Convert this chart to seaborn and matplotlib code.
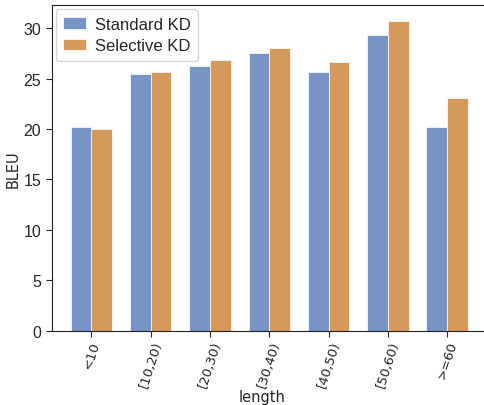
import matplotlib
matplotlib.use("Agg")
import matplotlib.pyplot as plt
import seaborn as sns
import pandas as pd

lengths = ["<10", "[10,20)", "[20,30)", "[30,40)", "[40,50)", "[50,60)", ">=60"]
standard_kd = [20.2, 25.5, 26.3, 27.5, 25.7, 29.3, 20.2]
selective_kd = [20.0, 25.7, 26.9, 28.0, 26.7, 30.7, 23.1]
methods = ["Standard KD", "Selective KD"]
colors = ["#7893C5", "#D59A5B"]

df = pd.DataFrame({
    "length": lengths * 2,
    "BLEU": standard_kd + selective_kd,
    "method": [methods[0]] * len(lengths) + [methods[1]] * len(lengths),
})

sns.set_style("ticks")
plt.rcParams["font.family"] = ["DejaVu Sans"]

fig = plt.figure(figsize=(4.85, 4.06), dpi=100)
ax = fig.add_axes([0.1066, 0.183, 0.8974, 0.802])

sns.barplot(data=df, x="length", y="BLEU", hue="method", order=lengths,
            hue_order=methods, palette=colors, saturation=1, width=0.7,
            edgecolor="white", linewidth=0.5, ax=ax)

ax.set_xlim(-0.67, 6.67)
ax.set_ylim(0, 32.3)
ax.set_yticks([0, 5, 10, 15, 20, 25, 30])
for lab in ax.get_yticklabels():
    lab.set_family("Liberation Sans")
    lab.set_fontsize(11.5)
ax.tick_params(axis="x", labelrotation=72, labelsize=9.5, pad=2)
ax.tick_params(length=4)
ax.set_xlabel("length", fontsize=10.5)
ax.xaxis.set_label_coords(0.483, -0.18)
ax.set_ylabel("BLEU", fontsize=10.5, labelpad=2)
for s in ax.spines.values():
    s.set_color("#222222")

leg = ax.legend(loc="upper left", prop={"family": "Liberation Sans", "size": 12},
                handlelength=1.35, handleheight=0.7, handletextpad=0.55,
                borderaxespad=0.25, borderpad=0.45, labelspacing=0.4)
leg.set_title(None)

fig.savefig("out.png", dpi=100)
